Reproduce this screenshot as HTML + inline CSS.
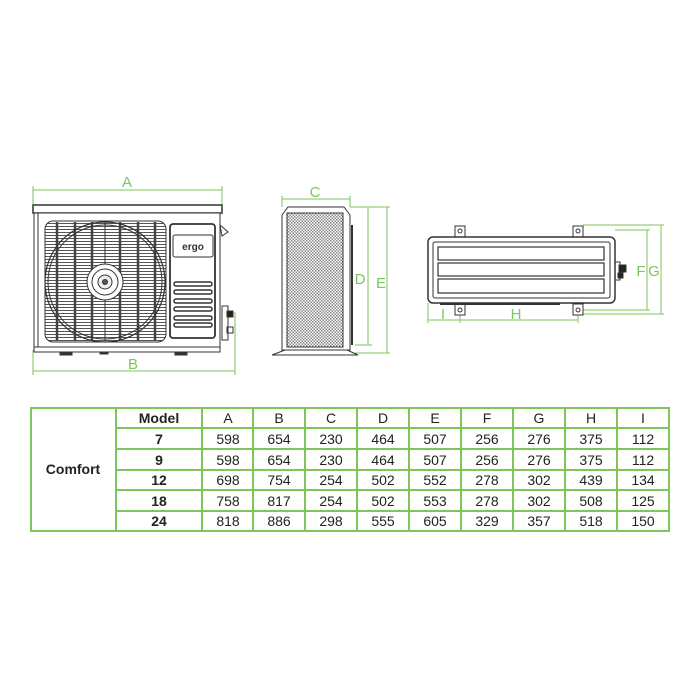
<!DOCTYPE html>
<html><head><meta charset="utf-8"><style>
html,body{margin:0;padding:0;background:#fff;}
svg{display:block;}
text{font-family:"Liberation Sans",sans-serif;}
</style></head><body>
<svg width="700" height="700" viewBox="0 0 700 700" xmlns="http://www.w3.org/2000/svg">
<defs>
<pattern id="hl" width="4" height="3" patternUnits="userSpaceOnUse"><rect width="4" height="3" fill="#fff"/><line x1="0" y1="1.5" x2="4" y2="1.5" stroke="#555" stroke-width="1"/></pattern>
<pattern id="mesh" width="3" height="3" patternUnits="userSpaceOnUse"><rect width="3" height="3" fill="#fff"/><rect x="0" y="0" width="1.5" height="1.5" fill="#8a8a8a"/><rect x="1.5" y="1.5" width="1.5" height="1.5" fill="#8a8a8a"/></pattern>
</defs>
<g stroke="#7bc75a" stroke-width="1" fill="none">
<line x1="33" y1="190" x2="222" y2="190"/><line x1="33" y1="186" x2="33" y2="205"/><line x1="222" y1="186" x2="222" y2="205"/>
<line x1="33" y1="371" x2="235" y2="371"/><line x1="33" y1="350" x2="33" y2="375"/><line x1="235" y1="312" x2="235" y2="375"/>
<line x1="282" y1="199" x2="350" y2="199"/><line x1="282" y1="196" x2="282" y2="207"/><line x1="350" y1="196" x2="350" y2="207"/>
<line x1="350" y1="207" x2="390" y2="207"/><line x1="368" y1="207" x2="368" y2="345"/><line x1="355" y1="345" x2="372" y2="345"/>
<line x1="387" y1="207" x2="387" y2="353"/><line x1="355" y1="353" x2="390" y2="353"/>
<line x1="583" y1="225" x2="664" y2="225"/><line x1="615" y1="230" x2="650" y2="230"/>
<line x1="647" y1="230" x2="647" y2="310"/><line x1="661" y1="225" x2="661" y2="314"/>
<line x1="583" y1="310" x2="650" y2="310"/><line x1="583" y1="314" x2="664" y2="314"/>
<line x1="428" y1="320" x2="578" y2="320"/><line x1="428" y1="303" x2="428" y2="323"/><line x1="460" y1="314" x2="460" y2="323"/><line x1="578" y1="314" x2="578" y2="323"/>
</g>
<g fill="#7bc75a" font-size="15">
<text x="127" y="187" text-anchor="middle">A</text>
<text x="133" y="369" text-anchor="middle">B</text>
<text x="315" y="197" text-anchor="middle">C</text>
<text x="360" y="284" text-anchor="middle">D</text>
<text x="381" y="288" text-anchor="middle">E</text>
<text x="641" y="276" text-anchor="middle">F</text>
<text x="654" y="276" text-anchor="middle">G</text>
<text x="443" y="319" text-anchor="middle">I</text>
<text x="516" y="319" text-anchor="middle">H</text>
</g>
<g stroke="#333" fill="none">
<rect x="33" y="205" width="189" height="8" fill="#fff" stroke-width="1.5"/>
<rect x="34" y="213" width="186" height="134" fill="#fff"/>
<line x1="38" y1="213" x2="38" y2="347"/>
<rect x="34" y="347" width="186" height="5" fill="#fff"/>
<rect x="60" y="352" width="12" height="3" fill="#333"/><rect x="100" y="352" width="8" height="2" fill="#333"/><rect x="175" y="352" width="12" height="3" fill="#333"/>
<rect x="45" y="221" width="121" height="121" rx="8" fill="url(#hl)"/>
<g stroke="#444" stroke-width="2.5"><line x1="57" y1="222" x2="57" y2="341"/><line x1="75" y1="222" x2="75" y2="341"/><line x1="92" y1="222" x2="92" y2="341"/><line x1="120" y1="222" x2="120" y2="341"/><line x1="138" y1="222" x2="138" y2="341"/><line x1="155" y1="222" x2="155" y2="341"/></g>
<line x1="105" y1="222" x2="105" y2="341"/>
<circle cx="105" cy="282" r="60" stroke-width="1.2"/><circle cx="105" cy="282" r="57"/>
<circle cx="105" cy="282" r="18" fill="#fff"/><circle cx="105" cy="282" r="13"/><circle cx="105" cy="282" r="7" fill="#eee"/><circle cx="105" cy="282" r="2.5" fill="#555"/>
<rect x="170" y="224" width="45" height="114" rx="3" stroke-width="1.8" fill="#fff"/>
<rect x="173" y="235" width="40" height="22" rx="2"/>
<g stroke-width="1.5"><rect x="174" y="282" width="38" height="4" rx="2"/><rect x="174" y="290" width="38" height="4" rx="2"/><rect x="174" y="299" width="38" height="4" rx="2"/><rect x="174" y="307" width="38" height="4" rx="2"/><rect x="174" y="316" width="38" height="4" rx="2"/><rect x="174" y="323" width="38" height="4" rx="2"/></g>
<path d="M220 225 L228 232 L222 236 Z"/>
<rect x="222" y="306" width="6" height="34"/><rect x="227" y="311" width="6" height="6" fill="#222"/><rect x="227" y="327" width="6" height="6"/>
</g>
<text x="193" y="250" text-anchor="middle" font-size="10" font-weight="bold" fill="#333">ergo</text>
<g stroke="#333" fill="none">
<path d="M282 215 L288 207 L344 207 L350 215 L350 350 L282 350 Z" fill="#fff"/>
<rect x="287" y="213" width="56" height="134" fill="url(#mesh)"/>
<line x1="352" y1="225" x2="352" y2="345" stroke-width="2"/>
<path d="M272 355 L285 350 L347 350 L358 355 Z" fill="#fff"/>
</g>
<g stroke="#333" fill="none">
<rect x="455" y="226" width="10" height="11" fill="#fff"/><rect x="573" y="226" width="10" height="11" fill="#fff"/>
<rect x="455" y="304" width="10" height="11" fill="#fff"/><rect x="573" y="304" width="10" height="11" fill="#fff"/>
<circle cx="460" cy="231" r="2"/><circle cx="578" cy="231" r="2"/><circle cx="460" cy="310" r="2"/><circle cx="578" cy="310" r="2"/>
<rect x="428" y="237" width="187" height="66" rx="5" fill="#fff" stroke-width="1.5"/>
<rect x="433" y="242" width="177" height="56" rx="2"/>
<rect x="438" y="247" width="166" height="13" stroke-width="1.2"/>
<rect x="438" y="263" width="166" height="13" stroke-width="1.2"/>
<rect x="438" y="279" width="166" height="14" stroke-width="1.2"/>
<line x1="440" y1="304" x2="560" y2="304" stroke-width="2"/>
<rect x="615" y="262" width="5" height="18"/><rect x="619" y="265" width="7" height="7" fill="#222"/><rect x="618" y="273" width="5" height="5" fill="#222"/>
</g>
<g stroke="#7bc75a" stroke-width="2" fill="none">
<rect x="31" y="408" width="638" height="123"/>
<line x1="116" y1="408" x2="116" y2="531"/>
<line x1="202" y1="408" x2="202" y2="531"/><line x1="253" y1="408" x2="253" y2="531"/><line x1="305" y1="408" x2="305" y2="531"/><line x1="357" y1="408" x2="357" y2="531"/><line x1="409" y1="408" x2="409" y2="531"/><line x1="461" y1="408" x2="461" y2="531"/><line x1="513" y1="408" x2="513" y2="531"/><line x1="565" y1="408" x2="565" y2="531"/><line x1="617" y1="408" x2="617" y2="531"/>
<line x1="116" y1="428" x2="669" y2="428"/><line x1="116" y1="449" x2="669" y2="449"/><line x1="116" y1="470" x2="669" y2="470"/><line x1="116" y1="490" x2="669" y2="490"/><line x1="116" y1="511" x2="669" y2="511"/>
</g>
<g font-size="14" fill="#222" text-anchor="middle">
<text x="73" y="474" font-weight="bold">Comfort</text>
<g font-weight="bold"><text x="159" y="423">Model</text><text x="159" y="444">7</text><text x="159" y="465">9</text><text x="159" y="485">12</text><text x="159" y="506">18</text><text x="159" y="526">24</text></g>
<g>
<text x="228" y="423">A</text><text x="279" y="423">B</text><text x="331" y="423">C</text><text x="383" y="423">D</text><text x="435" y="423">E</text><text x="487" y="423">F</text><text x="539" y="423">G</text><text x="591" y="423">H</text><text x="643" y="423">I</text>
<text x="228" y="444">598</text><text x="279" y="444">654</text><text x="331" y="444">230</text><text x="383" y="444">464</text><text x="435" y="444">507</text><text x="487" y="444">256</text><text x="539" y="444">276</text><text x="591" y="444">375</text><text x="643" y="444">112</text>
<text x="228" y="465">598</text><text x="279" y="465">654</text><text x="331" y="465">230</text><text x="383" y="465">464</text><text x="435" y="465">507</text><text x="487" y="465">256</text><text x="539" y="465">276</text><text x="591" y="465">375</text><text x="643" y="465">112</text>
<text x="228" y="485">698</text><text x="279" y="485">754</text><text x="331" y="485">254</text><text x="383" y="485">502</text><text x="435" y="485">552</text><text x="487" y="485">278</text><text x="539" y="485">302</text><text x="591" y="485">439</text><text x="643" y="485">134</text>
<text x="228" y="506">758</text><text x="279" y="506">817</text><text x="331" y="506">254</text><text x="383" y="506">502</text><text x="435" y="506">553</text><text x="487" y="506">278</text><text x="539" y="506">302</text><text x="591" y="506">508</text><text x="643" y="506">125</text>
<text x="228" y="526">818</text><text x="279" y="526">886</text><text x="331" y="526">298</text><text x="383" y="526">555</text><text x="435" y="526">605</text><text x="487" y="526">329</text><text x="539" y="526">357</text><text x="591" y="526">518</text><text x="643" y="526">150</text>
</g>
</g>
</svg>
</body></html>
